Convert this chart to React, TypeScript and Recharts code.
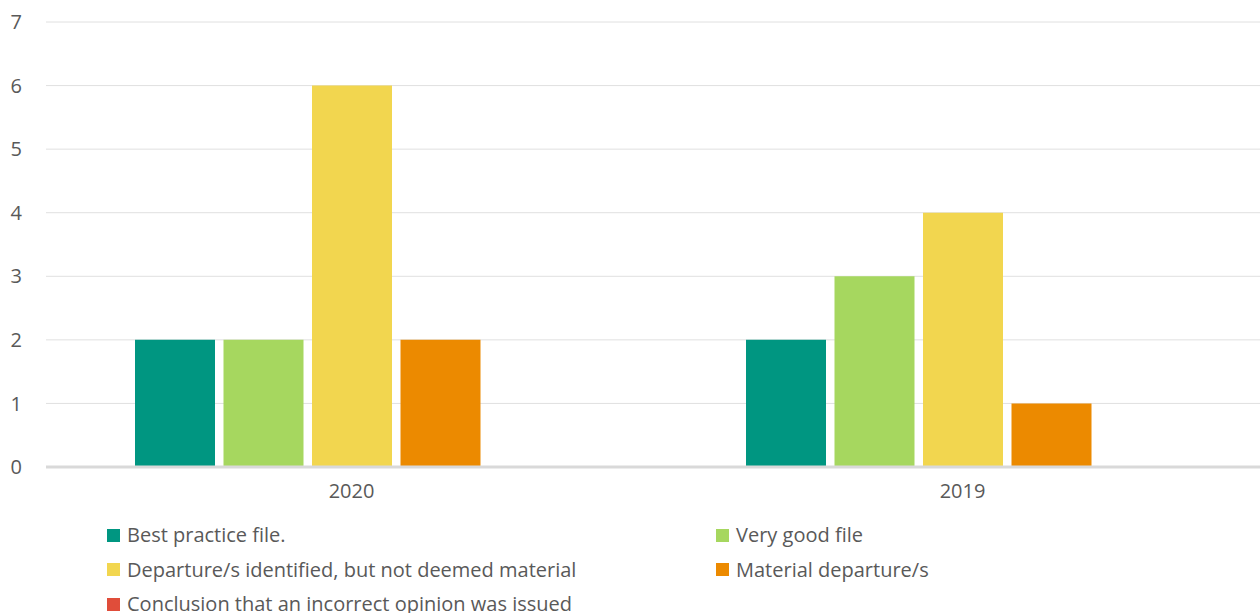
import { Bar, BarChart, CartesianGrid, XAxis, YAxis } from "recharts";

const years = ["2020", "2019"];
const bestPractice = [2, 2];
const veryGood = [2, 3];
const notMaterial = [6, 4];
const material = [2, 1];
const incorrectOpinion = [0, 0];
const yTicks = [0, 1, 2, 3, 4, 5, 6, 7];

const series = [
  { key: "best", name: "Best practice file.", color: "#009681", values: bestPractice },
  { key: "good", name: "Very good file", color: "#a6d75f", values: veryGood },
  { key: "notMat", name: "Departure/s identified, but not deemed material", color: "#f2d64f", values: notMaterial },
  { key: "mat", name: "Material departure/s", color: "#ec8a00", values: material },
  { key: "incorrect", name: "Conclusion that an incorrect opinion was issued", color: "#e04d3a", values: incorrectOpinion },
];

const data = years.map((year, i) => {
  const row: Record<string, string | number> = { year };
  series.forEach((s) => {
    row[s.key] = s.values[i];
  });
  return row;
});

const font = "'Open Sans', 'Noto Sans', sans-serif";

export default function App() {
  return (
    <div style={{ position: "absolute", left: 0, top: 0, width: 1260, height: 613, overflow: "hidden", fontFamily: font, background: "#fff" }}>
      <BarChart
        width={1268}
        height={613}
        data={data}
        margin={{ top: 22, right: 0, left: 0, bottom: 113 }}
        barSize={80}
        barGap={8.5}
      >
        <CartesianGrid vertical={false} stroke="#e0e0e0" />
        <XAxis
          dataKey="year"
          axisLine={{ stroke: "#d9d9d9", strokeWidth: 3 }}
          tickLine={false}
          height={33}
          tickMargin={11}
          tick={{ fill: "#595959", fontSize: 20, fontFamily: font }}
        />
        <YAxis
          width={46}
          domain={[0, 7]}
          ticks={yTicks}
          axisLine={false}
          tickLine={false}
          tickSize={0}
          tickMargin={24}
          tick={{ fill: "#595959", fontSize: 20, fontFamily: font }}
        />
        {series.map((s) => (
          <Bar key={s.key} dataKey={s.key} name={s.name} fill={s.color} isAnimationActive={false} />
        ))}
      </BarChart>
      <div style={{ position: "absolute", left: 107, top: 521, width: 1150 }}>
        {series.map((s, i) => (
          <div
            key={s.key}
            style={{
              position: "absolute",
              left: i % 2 === 0 ? 0 : 609,
              top: Math.floor(i / 2) * 34.5,
              display: "flex",
              alignItems: "center",
              whiteSpace: "nowrap",
              fontSize: 20,
              color: "#595959",
              lineHeight: "28px",
            }}
          >
            <span style={{ display: "inline-block", width: 13, height: 13, background: s.color, marginRight: 7 }} />
            {s.name}
          </div>
        ))}
      </div>
    </div>
  );
}
